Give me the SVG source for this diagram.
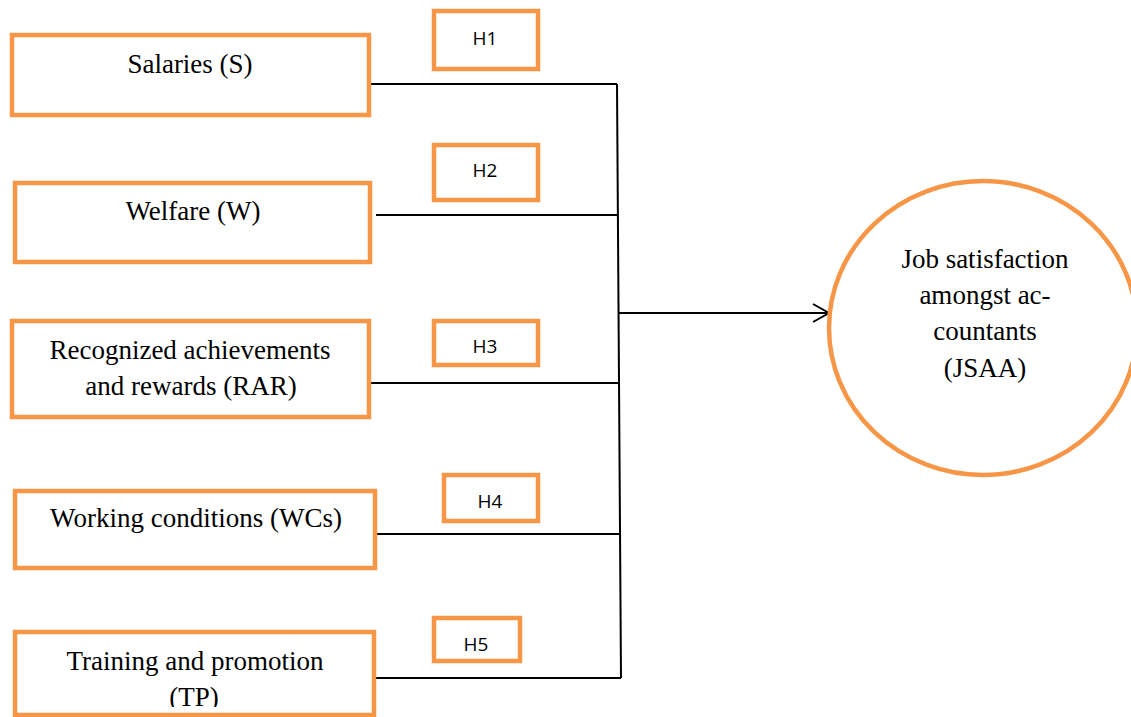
<svg xmlns="http://www.w3.org/2000/svg" width="1131" height="717" viewBox="0 0 1131 717">
<style>
.box{fill:#fff;stroke:#F79646;stroke-width:4.5}
.lbl{font-family:"Liberation Serif","Times New Roman",serif;font-size:27px;fill:#000;text-anchor:middle}
.h{font-family:"Open Sans","Liberation Sans",sans-serif;font-size:19px;fill:#000;text-anchor:middle}
.ln{stroke:#000;stroke-width:2;fill:none}
</style>
<defs>
<marker id="arr" markerWidth="20" markerHeight="22" refX="17" refY="10" orient="auto" markerUnits="userSpaceOnUse">
<path d="M1,1 L17,10 L1,19" fill="none" stroke="#000" stroke-width="2"/>
</marker>
<clipPath id="tpclip"><rect x="0" y="600" width="400" height="107"/></clipPath>
</defs>
<rect width="1131" height="717" fill="#fff"/>
<g id="connectors">
<path class="ln" d="M617,84 L621,678"/>
<path class="ln" d="M369,84 H617"/>
<path class="ln" d="M376,215 H618"/>
<path class="ln" d="M369,383 H619"/>
<path class="ln" d="M376,534 H620"/>
<path class="ln" d="M376,678 H621"/>
<path class="ln" d="M618,313 H829" marker-end="url(#arr)"/>
</g>
<g id="node-s">
<rect class="box" x="12" y="35" width="357" height="80"/>
<text class="lbl" x="190" y="73">Salaries (S)</text>
</g>
<g id="node-w">
<rect class="box" x="15" y="183" width="355" height="79"/>
<text class="lbl" x="193" y="220">Welfare (W)</text>
</g>
<g id="node-rar">
<rect class="box" x="12" y="321" width="357" height="96"/>
<text class="lbl" x="190" y="359">Recognized achievements</text>
<text class="lbl" x="191" y="395">and rewards (RAR)</text>
</g>
<g id="node-wcs">
<rect class="box" x="15" y="491" width="360" height="77"/>
<text class="lbl" x="196" y="527">Working conditions (WCs)</text>
</g>
<g id="node-tp">
<rect class="box" x="15" y="632" width="359" height="83"/>
<g clip-path="url(#tpclip)">
<text class="lbl" x="195" y="670">Training and promotion</text>
<text class="lbl" x="194" y="706">(TP)</text>
</g>
</g>
<g id="node-h1">
<rect class="box" x="434" y="11" width="104" height="58"/>
<text class="h" x="485" y="45">H1</text>
</g>
<g id="node-h2">
<rect class="box" x="434" y="145" width="104" height="55"/>
<text class="h" x="485" y="177">H2</text>
</g>
<g id="node-h3">
<rect class="box" x="434" y="321" width="104" height="44"/>
<text class="h" x="485" y="353">H3</text>
</g>
<g id="node-h4">
<rect class="box" x="444" y="475" width="94" height="46"/>
<text class="h" x="490" y="508">H4</text>
</g>
<g id="node-h5">
<rect class="box" x="434" y="618" width="86" height="43"/>
<text class="h" x="476" y="651">H5</text>
</g>
<g id="node-jsaa">
<ellipse class="box" cx="983" cy="328" rx="154" ry="147"/>
<text class="lbl" x="985" y="268">Job satisfaction</text>
<text class="lbl" x="985" y="304">amongst ac-</text>
<text class="lbl" x="985" y="340">countants</text>
<text class="lbl" x="985" y="377">(JSAA)</text>
</g>
</svg>
